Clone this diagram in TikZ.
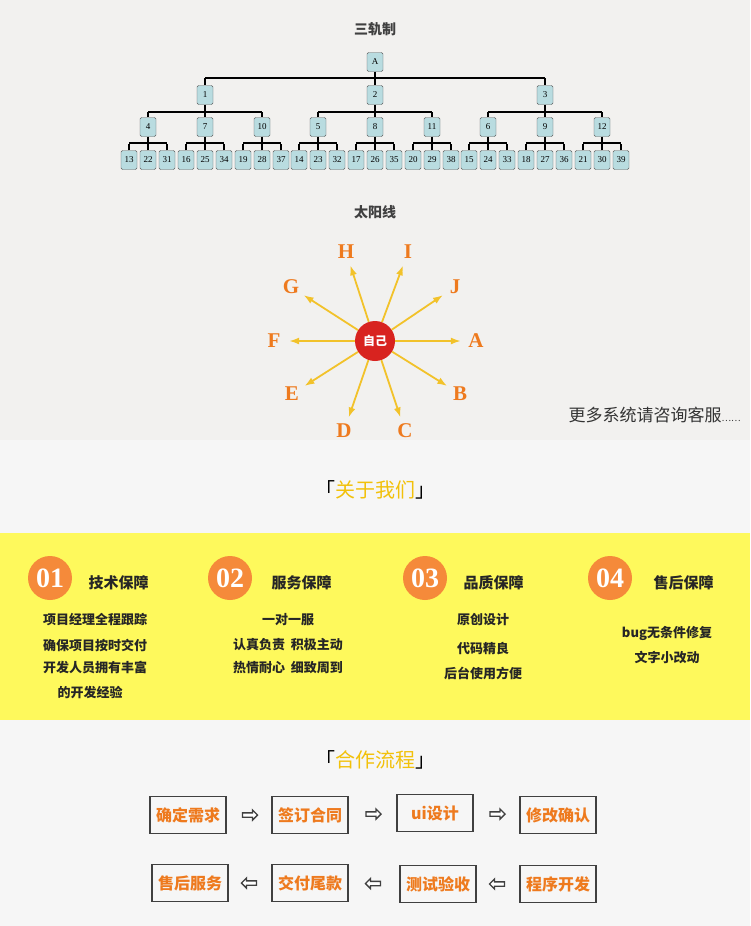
\documentclass[tikz,border=0pt]{standalone}
\usepackage{fontspec}
\setmainfont{Noto Sans CJK SC}
\newfontfamily\serifl{Liberation Serif}
\usetikzlibrary{shapes.arrows,arrows.meta,calc}
\definecolor{bgA}{HTML}{F2F1EF}
\definecolor{bgB}{HTML}{F6F6F6}
\definecolor{band}{HTML}{FEF95C}
\definecolor{leaf}{HTML}{B9DCE0}
\definecolor{ray}{HTML}{F2C22A}
\definecolor{orng}{HTML}{EE7A1E}
\definecolor{gold}{HTML}{F2C10A}
\definecolor{sunred}{HTML}{D8231F}
\definecolor{numor}{HTML}{F58A3A}
\tikzset{
 tbox/.style={draw=gray!70!black,fill=leaf,rounded corners=1.5pt,minimum width=16pt,minimum height=19pt,inner sep=0pt,font=\serifl\fontsize{9}{9}\selectfont},
 tline/.style={line width=1.6pt,black},
 rlab/.style={text=orng,font=\serifl\bfseries\fontsize{21}{21}\selectfont},
 rayar/.style={ray,line width=1.8pt,-{Latex[length=10pt,width=7pt]}},
 ttl/.style={text=black!75,font=\bfseries\fontsize{14}{14}\selectfont},
 numc/.style={circle,fill=numor,minimum size=44pt,inner sep=0pt,text=white,font=\serifl\bfseries\fontsize{28}{28}\selectfont},
 htitle/.style={text=black!85,font=\bfseries\fontsize{15}{15}\selectfont,anchor=west},
 body/.style={text=black!85,font=\bfseries\fontsize{13}{13}\selectfont},
 pbox/.style={draw=black!75,line width=1.6pt,minimum width=76pt,minimum height=37pt,text=orng,font=\bfseries\fontsize{16}{16}\selectfont},
 harrow/.style={single arrow,draw=black!75,fill=white,line width=1.3pt,minimum height=15pt,single arrow head extend=3pt,inner sep=1.5pt,single arrow tip angle=90},
 sect/.style={text=gold,font=\fontsize{20}{20}\selectfont}
}
\begin{document}
\begin{tikzpicture}[x=1pt,y=-1pt]
\useasboundingbox (0,0) rectangle (750,926);
\fill[bgA] (0,0) rectangle (750,440);
\fill[bgB] (0,440) rectangle (750,533);
\fill[band] (0,533) rectangle (750,720);
\fill[bgB] (0,720) rectangle (750,926);
% tree
\node[ttl] (t1) at (375,29) {三轨制};
\node[tbox] (A) at (375,62) {A};
\foreach \n/\x in {1/205,2/375,3/545}{\node[tbox] (n\n) at (\x,95) {\n};}
\draw[tline] (A.south) -- (375,78) (205,78) -- (545,78);
\foreach \n/\x in {1/205,2/375,3/545}{\draw[tline] (\x,78) -- (n\n.north);}
\foreach \p in {1,2,3}{
  \draw[tline] (n\p.south) -- ++(0,9);
}
\foreach \n/\x/\p in {4/148/1,7/205/1,10/262/1,5/318/2,8/375/2,11/432/2,6/488/3,9/545/3,12/602/3}{
  \node[tbox] (m\n) at (\x,127) {\n};
  \draw[tline] (\x,112) -- (m\n.north);
  \draw[tline] (m\n.south) -- (\x,143);
  \draw[tline] (\x-19,143) -- (\x+19,143);
  \pgfmathtruncatemacro\ka{\n+9}\pgfmathtruncatemacro\kb{\n+18}\pgfmathtruncatemacro\kc{\n+27}
  \node[tbox] (l\ka) at (\x-19,160) {\ka};
  \node[tbox] (l\kb) at (\x,160) {\kb};
  \node[tbox] (l\kc) at (\x+19,160) {\kc};
  \foreach \k in {\ka,\kb,\kc}{\draw[tline] (l\k.north) -- ++(0,-6);}
}
\draw[tline] (148,112) -- (262,112) (318,112) -- (432,112) (488,112) -- (602,112);
% sun
\node[ttl] (t2) at (375,212) {太阳线};
\node[circle,fill=sunred,minimum size=40pt,inner sep=0pt,text=white,font=\bfseries\fontsize{12}{12}\selectfont] (me) at (375,341) {自己};
\foreach \l/\x/\y in {A/476/341,B/460/394,C/405/431,D/344/431,E/292/394,F/274/341,G/291/287,H/346/252,I/408/252,J/455/287}{
  \node[rlab] (s\l) at (\x,\y) {\l};
  \draw[rayar] (me) -- ($(me)!0.85!(s\l)$);
}
\node[text=black!80,font=\fontsize{17}{17}\selectfont,anchor=west] (more) at (565,415) {更多系统请咨询客服\fontsize{9}{9}\selectfont……};
% about
\node[sect] (ab) at (375,490) {\textcolor{black}{「}关于我们\textcolor{black}{」}};
\foreach \i/\cx/\tx/\t in {1/50/85/技术保障,2/230/268/服务保障,3/425/460/品质保障,4/610/650/售后保障}{
  \node[numc] (c\i) at (\cx,578) {0\i};
  \node[htitle] (h\i) at (\tx,583) {\t};
}
\node[body] (b11) at (95,620) {项目经理全程跟踪};
\node[body] (b12) at (95,645) {确保项目按时交付};
\node[body] (b13) at (95,668) {开发人员拥有丰富};
\node[body] (b14) at (90,692) {的开发经验};
\node[body] (b21) at (288,620) {一对一服};
\node[body] (b22) at (288,645) {认真负责\ \ 积极主动};
\node[body] (b23) at (288,668) {热情耐心\ \ 细致周到};
\node[body] (b31) at (483,620) {原创设计};
\node[body] (b32) at (483,649) {代码精良};
\node[body] (b33) at (483,673) {后台使用方便};
\node[body] (b41) at (667,633) {bug无条件修复};
\node[body] (b42) at (667,657) {文字小改动};
% process
\node[sect] (pr) at (375,760) {\textcolor{black}{「}合作流程\textcolor{black}{」}};
\node[pbox] (p1) at (188,815) {确定需求};
\node[pbox] (p2) at (310,815) {签订合同};
\node[pbox] (p3) at (435,813) {ui设计};
\node[pbox] (p4) at (558,815) {修改确认};
\node[pbox] (q1) at (190,883) {售后服务};
\node[pbox] (q2) at (310,883) {交付尾款};
\node[pbox] (q3) at (438,884) {测试验收};
\node[pbox] (q4) at (558,884) {程序开发};
\node[harrow] (a1) at ($(p1.east)!0.5!(p2.west)$) {};
\node[harrow] (a2) at ($(p2.east)!0.5!(p3.west)$) {};
\node[harrow] (a3) at ($(p3.east)!0.5!(p4.west)$) {};
\node[harrow,shape border rotate=180] (a4) at ($(q4.west)!0.5!(q3.east)$) {};
\node[harrow,shape border rotate=180] (a5) at ($(q3.west)!0.5!(q2.east)$) {};
\node[harrow,shape border rotate=180] (a6) at ($(q2.west)!0.5!(q1.east)$) {};
\end{tikzpicture}
\end{document}
